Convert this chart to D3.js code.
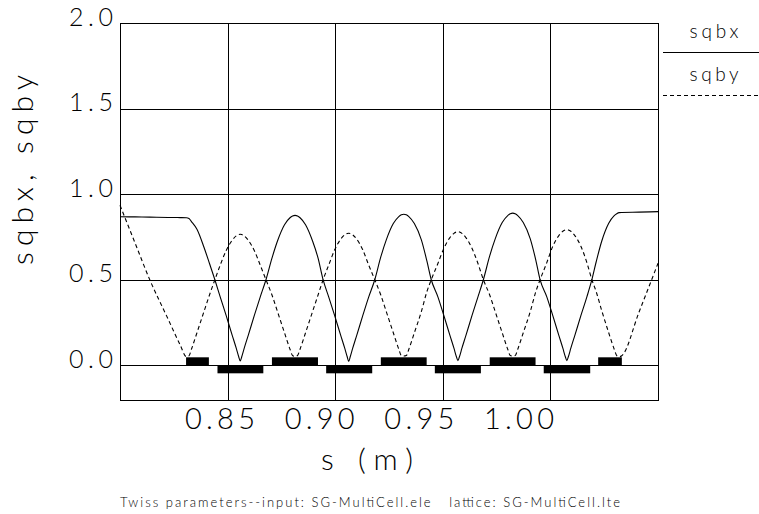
<!DOCTYPE html>
<html>
<head>
<meta charset="utf-8">
<script src="https://cdn.jsdelivr.net/npm/d3@7"></script>
<style>
  html, body { margin: 0; padding: 0; background: #fff; }
  text { font-family: "Lato", "DejaVu Sans", sans-serif; font-weight: 300; fill: #000; white-space: pre; }
</style>
</head>
<body>
<script>
// twiss output, s in metres
const sPos = [
  0.80000, 0.80698, 0.81383, 0.82235, 0.82793, 0.83087,
  0.83203, 0.83320, 0.83576, 0.83902, 0.84158, 0.84409, 0.84656, 0.84935, 0.85215, 0.85401, 0.85517, 0.85587,
  0.85657, 0.85773, 0.85959, 0.86239, 0.86518, 0.86783, 0.87062, 0.87318, 0.87644, 0.87900, 0.88017, 0.88133,
  0.88249, 0.88366, 0.88622, 0.88948, 0.89204, 0.89437, 0.89697, 0.89976, 0.90256, 0.90442, 0.90558, 0.90628,
  0.90698, 0.90814, 0.91000, 0.91280, 0.91559, 0.91839, 0.92118, 0.92374, 0.92700, 0.92956, 0.93073, 0.93189,
  0.93305, 0.93422, 0.93678, 0.94004, 0.94260, 0.94464, 0.94772, 0.95051, 0.95331, 0.95517, 0.95633, 0.95703,
  0.95773, 0.95889, 0.96075, 0.96355, 0.96634, 0.96885, 0.97179, 0.97435, 0.97761, 0.98017, 0.98134, 0.98250,
  0.98366, 0.98483, 0.98739, 0.99065, 0.99321, 0.99520, 0.99833, 1.00112, 1.00392, 1.00578, 1.00694, 1.00764,
  1.00834, 1.00950, 1.01136, 1.01416, 1.01695, 1.01927, 1.02128, 1.02384, 1.02710, 1.02966, 1.03083, 1.03199,
  1.03315, 1.04116, 1.05000
];
const sqbx = [
  0.868, 0.867, 0.866, 0.864, 0.863, 0.862,
  0.858, 0.840, 0.795, 0.690, 0.595, 0.500, 0.400, 0.290, 0.175, 0.100, 0.050, 0.025,
  0.050, 0.100, 0.175, 0.290, 0.400, 0.500, 0.626, 0.726, 0.821, 0.862, 0.872, 0.876,
  0.872, 0.862, 0.821, 0.726, 0.626, 0.500, 0.400, 0.290, 0.175, 0.100, 0.050, 0.023,
  0.050, 0.100, 0.175, 0.290, 0.400, 0.500, 0.633, 0.733, 0.828, 0.869, 0.879, 0.883,
  0.879, 0.869, 0.828, 0.733, 0.610, 0.500, 0.400, 0.290, 0.175, 0.100, 0.050, 0.027,
  0.050, 0.100, 0.175, 0.290, 0.400, 0.500, 0.639, 0.739, 0.834, 0.875, 0.885, 0.889,
  0.885, 0.875, 0.834, 0.739, 0.615, 0.500, 0.400, 0.290, 0.175, 0.100, 0.050, 0.027,
  0.050, 0.100, 0.175, 0.290, 0.400, 0.500, 0.605, 0.725, 0.830, 0.875, 0.886, 0.892,
  0.893, 0.895, 0.898
];
const sqby = [
  0.935, 0.715, 0.500, 0.270, 0.120, 0.050,
  0.055, 0.094, 0.190, 0.314, 0.411, 0.500, 0.585, 0.671, 0.731, 0.756, 0.764, 0.766,
  0.764, 0.756, 0.731, 0.671, 0.585, 0.500, 0.411, 0.314, 0.190, 0.094, 0.057, 0.052,
  0.057, 0.094, 0.190, 0.314, 0.411, 0.500, 0.585, 0.675, 0.737, 0.762, 0.770, 0.772,
  0.770, 0.762, 0.737, 0.675, 0.585, 0.500, 0.411, 0.314, 0.190, 0.094, 0.057, 0.054,
  0.057, 0.094, 0.190, 0.314, 0.430, 0.500, 0.595, 0.684, 0.746, 0.771, 0.779, 0.781,
  0.779, 0.771, 0.746, 0.684, 0.595, 0.500, 0.411, 0.314, 0.190, 0.094, 0.057, 0.054,
  0.057, 0.094, 0.190, 0.314, 0.430, 0.500, 0.600, 0.696, 0.758, 0.783, 0.791, 0.793,
  0.791, 0.783, 0.758, 0.696, 0.600, 0.500, 0.430, 0.320, 0.190, 0.094, 0.057, 0.050,
  0.056, 0.310, 0.596
];

// lattice profile: quadrupoles (F above the axis, D below)
const quadStart = [0.8307, 0.8453, 0.8706, 0.8958, 0.9212, 0.9463, 0.9718, 0.9969, 1.0222];
const quadEnd   = [0.8413, 0.8666, 0.8920, 0.9172, 0.9425, 0.9677, 0.9931, 1.0185, 1.0332];
const quadKind  = ['F', 'D', 'F', 'D', 'F', 'D', 'F', 'D', 'F'];

const xTicks = [0.85, 0.90, 0.95, 1.00];
const yTicks = [0.0, 0.5, 1.0, 1.5, 2.0];
const seriesNames = ['sqbx', 'sqby'];

const W = 759, H = 514;
const x = d3.scaleLinear().domain([0.80, 1.05]).range([120, 658]);
const y = d3.scaleLinear().domain([-0.2027, 2.0]).range([400, 23]);
// tick labels are laid out on their own spacing, not centred on the grid
const xLab = d3.scaleLinear().domain([0.85, 1.00]).range([220, 519]);

const svg = d3.select('body').append('svg')
  .attr('width', W).attr('height', H)
  .attr('xmlns', 'http://www.w3.org/2000/svg');

svg.append('rect').attr('width', W).attr('height', H).attr('fill', '#fff');

const grid = svg.append('g').attr('stroke', '#000').attr('stroke-width', 1).attr('shape-rendering', 'crispEdges');
grid.selectAll('.gx').data(xTicks).enter().append('line')
  .attr('x1', d => Math.round(x(d)) + 0.5).attr('x2', d => Math.round(x(d)) + 0.5)
  .attr('y1', y(2.0)).attr('y2', 400);
grid.selectAll('.gy').data(yTicks.slice(0, 4)).enter().append('line')
  .attr('x1', 120).attr('x2', 658)
  .attr('y1', d => Math.round(y(d)) + 0.5).attr('y2', d => Math.round(y(d)) + 0.5);
grid.append('rect')
  .attr('x', 120.5).attr('y', Math.round(y(2.0)) + 0.5)
  .attr('width', 538).attr('height', 400 - Math.round(y(2.0)))
  .attr('fill', 'none');

// quadrupole boxes
svg.append('g').selectAll('rect').data(quadKind).enter().append('rect')
  .attr('x', (d, i) => x(quadStart[i]))
  .attr('width', (d, i) => x(quadEnd[i]) - x(quadStart[i]))
  .attr('y', d => d === 'F' ? y(0) - 8 : y(0))
  .attr('height', 8)
  .attr('fill', '#000');

const line = vals => d3.line()
  .x((d, i) => x(sPos[i]))
  .y(d => y(d))
  .curve(d3.curveMonotoneX)(vals);

svg.append('path').attr('d', line(sqbx))
  .attr('fill', 'none').attr('stroke', '#000').attr('stroke-width', 1.1);
svg.append('path').attr('d', line(sqby))
  .attr('fill', 'none').attr('stroke', '#000').attr('stroke-width', 1.1)
  .attr('stroke-dasharray', '4,3');

// tick labels
svg.append('g').selectAll('text').data(yTicks).enter().append('text')
  .attr('x', 113).attr('y', d => y(d) + 2.5)
  .attr('text-anchor', 'end')
  .attr('font-size', 25)
  .attr('textLength', 44).attr('lengthAdjust', 'spacing')
  .text(d => d.toFixed(1));
svg.append('g').selectAll('text').data(xTicks).enter().append('text')
  .attr('x', d => xLab(d)).attr('y', 429)
  .attr('text-anchor', 'middle')
  .attr('font-size', 29)
  .attr('textLength', 70).attr('lengthAdjust', 'spacing')
  .text(d => d.toFixed(2));

// axis titles
svg.append('text')
  .attr('x', 367).attr('y', 470)
  .attr('text-anchor', 'middle').attr('font-size', 30)
  .attr('textLength', 92).attr('lengthAdjust', 'spacing')
  .text('s (m)');
svg.append('text')
  .attr('transform', 'translate(33,170) rotate(-90)')
  .attr('text-anchor', 'middle').attr('font-size', 30)
  .attr('textLength', 190).attr('lengthAdjust', 'spacing')
  .text('sqbx, sqby');

svg.append('text')
  .attr('x', 120).attr('y', 507)
  .attr('font-size', 13)
  .attr('textLength', 500).attr('lengthAdjust', 'spacing')
  .text('Twiss parameters--input: SG-MultiCell.ele   lattice: SG-MultiCell.lte');

// legend
const leg = svg.append('g');
seriesNames.forEach((name, i) => {
  const ty = 38 + i * 43;
  leg.append('text')
    .attr('x', 714).attr('y', ty)
    .attr('text-anchor', 'middle').attr('font-size', 19)
    .attr('textLength', 49).attr('lengthAdjust', 'spacing')
    .text(name);
  leg.append('line')
    .attr('x1', 663).attr('x2', 759)
    .attr('y1', ty + 14.5).attr('y2', ty + 14.5)
    .attr('stroke', '#000').attr('stroke-width', 1)
    .attr('stroke-dasharray', i === 0 ? null : '4,3');
});
</script>
</body>
</html>
